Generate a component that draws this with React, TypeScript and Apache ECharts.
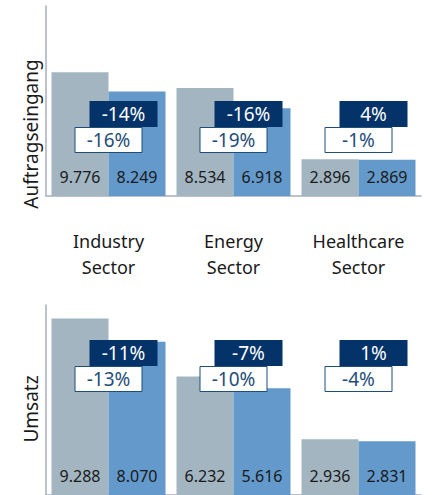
import React, { useEffect, useRef } from "react";
import * as echarts from "echarts";

const categories = ["Industry\nSector", "Energy\nSector", "Healthcare\nSector"];
const ordersPrev = [9776, 8534, 2896];
const ordersCurr = [8249, 6918, 2869];
const ordersChangeNominal = [-14, -16, 4];
const ordersChangeComparable = [-16, -19, -1];
const revenuePrev = [9288, 6232, 2936];
const revenueCurr = [8070, 5616, 2831];
const revenueChangeNominal = [-11, -7, 1];
const revenueChangeComparable = [-13, -10, -4];

const FONT = "Noto Sans";
const GRAY = "#a2b5c1";
const BLUE = "#6399cb";
const NAVY = "#04336a";
const fmt = (v: number) => (v / 1000).toFixed(3);

function boxSeries(xi: number, yi: number, nom: number[], comp: number[], darkOff: number, whiteOff: number) {
  return {
    type: "custom",
    xAxisIndex: xi,
    yAxisIndex: yi,
    z: 10,
    data: nom.map((n, i) => [i, n, comp[i]]),
    renderItem: (params: any, api: any) => {
      const p = api.coord([api.value(0), 0]);
      const cx = p[0];
      const by = p[1];
      const w = 68;
      return {
        type: "group",
        children: [
          {
            type: "rect",
            shape: { x: cx + 15 - w / 2, y: by - darkOff, width: w, height: 26 },
            style: { fill: NAVY },
          },
          {
            type: "text",
            x: cx + 15,
            y: by - darkOff + 13,
            style: {
              text: api.value(1) + "%",
              fill: "#ffffff",
              font: `19px "${FONT}"`,
              align: "center",
              verticalAlign: "middle",
            },
          },
          {
            type: "rect",
            shape: { x: cx - w / 2 + 0.5, y: by - whiteOff + 0.5, width: w - 1, height: 25 },
            style: { fill: "#ffffff", stroke: "#1f4e79", lineWidth: 1 },
          },
          {
            type: "text",
            x: cx,
            y: by - whiteOff + 13,
            style: {
              text: api.value(2) + "%",
              fill: "#1f4e79",
              font: `19px "${FONT}"`,
              align: "center",
              verticalAlign: "middle",
            },
          },
        ],
      };
    },
  };
}

function barSeries(xi: number, yi: number, data: number[], color: string) {
  return {
    type: "bar",
    xAxisIndex: xi,
    yAxisIndex: yi,
    data,
    barGap: "0%",
    barCategoryGap: "8.8%",
    itemStyle: { color },
    label: {
      show: true,
      position: "insideBottom",
      distance: 11,
      formatter: (p: any) => fmt(p.value),
      color: "#1a1a1a",
      fontSize: 16,
      fontFamily: FONT,
    },
  };
}

export default function App() {
  const ref = useRef<HTMLDivElement>(null);
  useEffect(() => {
    document.body.style.margin = "0";
    const chart = echarts.init(ref.current!, null, { renderer: "svg" });
    const axisLine = { show: true, lineStyle: { color: "#a6afbc", width: 1.5 } };
    chart.setOption({
      animation: false,
      textStyle: { fontFamily: FONT },
      grid: [
        { left: 46, top: 6, width: 375, height: 190 },
        { left: 46, top: 305, width: 375, height: 191 },
      ],
      xAxis: [
        {
          type: "category",
          gridIndex: 0,
          data: categories,
          axisLine,
          axisTick: { show: false },
          axisLabel: { color: "#1a1a1a", fontSize: 18, lineHeight: 26, margin: 32, fontFamily: FONT },
        },
        {
          type: "category",
          gridIndex: 1,
          data: categories,
          axisLine,
          axisTick: { show: false },
          axisLabel: { show: false },
        },
      ],
      yAxis: [
        {
          type: "value",
          gridIndex: 0,
          min: 0,
          max: 15000,
          axisLine,
          axisTick: { show: false },
          axisLabel: { show: false },
          splitLine: { show: false },
        },
        {
          type: "value",
          gridIndex: 1,
          min: 0,
          max: 10000,
          axisLine,
          axisTick: { show: false },
          axisLabel: { show: false },
          splitLine: { show: false },
        },
      ],
      graphic: [
        {
          type: "text",
          x: 31,
          y: 134,
          rotation: Math.PI / 2,
          style: {
            text: "Auftragseingang",
            fill: "#1a1a1a",
            font: `19px "${FONT}"`,
            align: "center",
            verticalAlign: "middle",
          },
        },
        {
          type: "text",
          x: 31,
          y: 409,
          rotation: Math.PI / 2,
          style: {
            text: "Umsatz",
            fill: "#1a1a1a",
            font: `19px "${FONT}"`,
            align: "center",
            verticalAlign: "middle",
          },
        },
      ],
      series: [
        barSeries(0, 0, ordersPrev, GRAY),
        barSeries(0, 0, ordersCurr, BLUE),
        barSeries(1, 1, revenuePrev, GRAY),
        barSeries(1, 1, revenueCurr, BLUE),
        boxSeries(0, 0, ordersChangeNominal, ordersChangeComparable, 95, 69),
        boxSeries(1, 1, revenueChangeNominal, revenueChangeComparable, 155, 129),
      ],
    });
    return () => chart.dispose();
  }, []);
  return <div ref={ref} style={{ width: 437, height: 495 }} />;
}
